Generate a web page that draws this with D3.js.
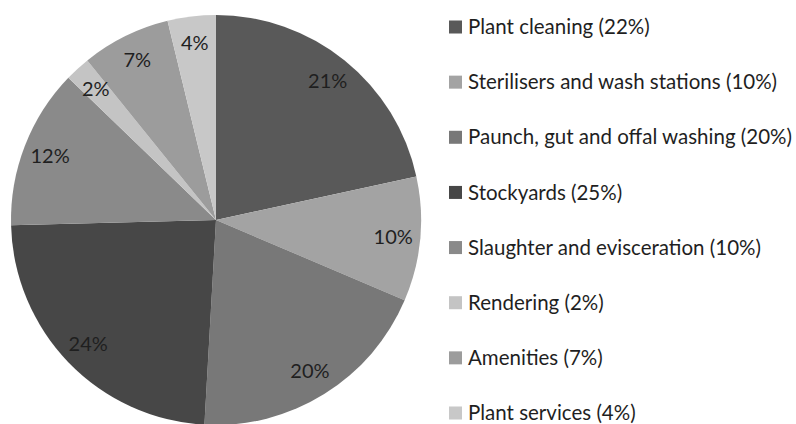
<!DOCTYPE html>
<html><head><meta charset="utf-8">
<script src="https://cdn.jsdelivr.net/npm/d3@7"></script>
<style>html,body{margin:0;padding:0;background:#fff}</style>
</head><body>
<svg id="c" width="796" height="424"></svg>
<script>
const categories = ["Plant cleaning (22%)","Sterilisers and wash stations (10%)","Paunch, gut and offal washing (20%)","Stockyards (25%)","Slaughter and evisceration (10%)","Rendering (2%)","Amenities (7%)","Plant services (4%)"];
const values = [21.6, 9.8, 19.5, 23.7, 12.6, 2.0, 7.0, 3.8];
const sliceLabels = ["21%","10%","20%","24%","12%","2%","7%","4%"];
const colors = ["#595959","#a3a3a3","#787878","#474747","#8a8a8a","#c4c4c4","#9c9c9c","#c8c8c8"];

const svg = d3.select("#c");
const cx = 216, cy = 220, r = 205;
const font = "Lato, 'Open Sans', sans-serif";
const pie = d3.pie().sort(null).value(d => d)(values);
const arc = d3.arc().innerRadius(0).outerRadius(r);
const labelArc = d3.arc().innerRadius(178).outerRadius(178);
const g = svg.append("g").attr("transform", `translate(${cx},${cy})`);
g.selectAll("path").data(pie).join("path")
  .attr("d", arc).attr("fill", (d,i) => colors[i]);
g.selectAll("text").data(pie).join("text")
  .attr("transform", d => `translate(${labelArc.centroid(d)})`)
  .attr("text-anchor","middle").attr("dy","0.35em")
  .attr("font-family", font).attr("font-size", 20).attr("fill","#1f1f1f")
  .text((d,i) => sliceLabels[i]);

const y = d3.scalePoint().domain(categories).range([27, 413]);
const lg = svg.append("g");
const items = lg.selectAll("g").data(categories).join("g")
  .attr("transform", d => `translate(449,${y(d)})`);
items.append("rect").attr("x",0).attr("y",-6.5).attr("width",13).attr("height",13)
  .attr("fill",(d,i) => colors[i]);
items.append("text").attr("x",19).attr("dy","0.35em")
  .attr("font-family", font).attr("font-size", 20.5).attr("fill","#1f1f1f")
  .text(d => d);
</script>
</body></html>
